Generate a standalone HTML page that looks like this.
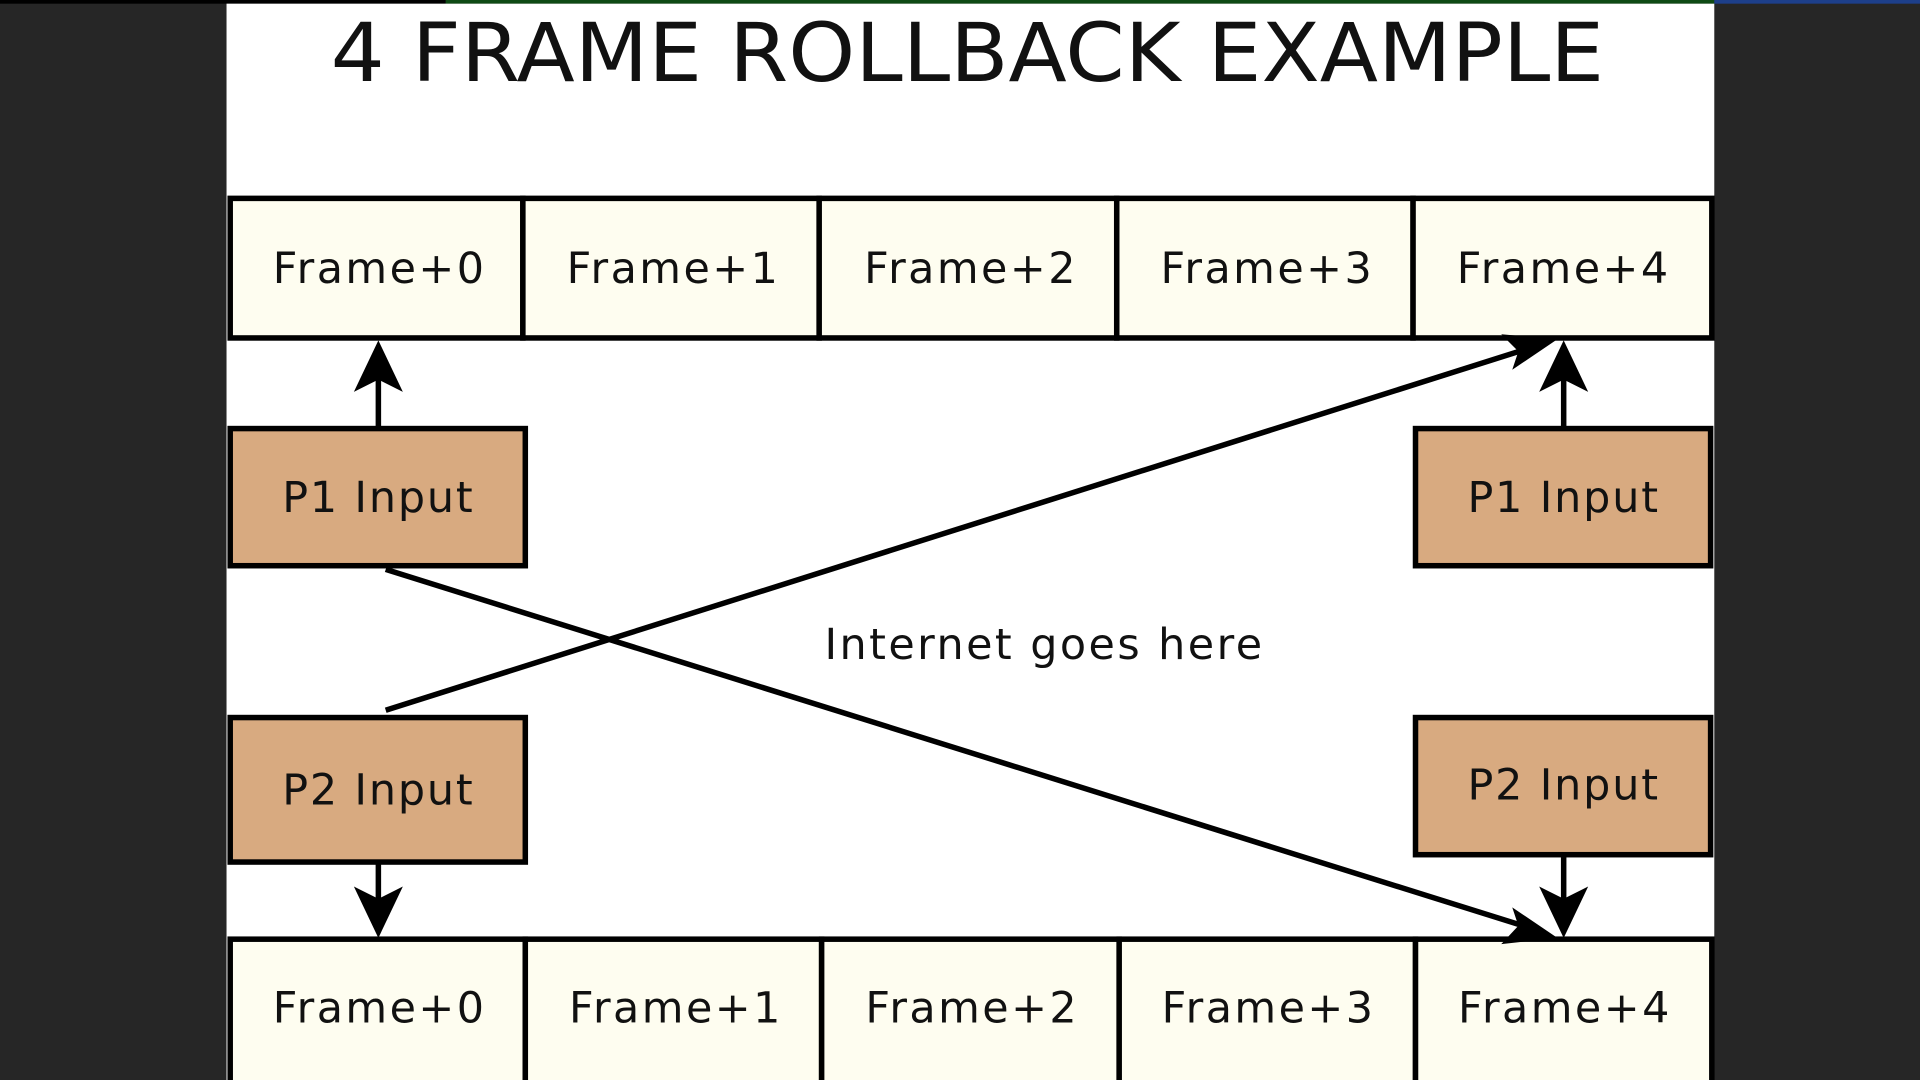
<!DOCTYPE html>
<html><head><meta charset="utf-8"><style>
html,body{margin:0;padding:0;background:#262626;width:1920px;height:1080px;overflow:hidden}
svg{display:block}
text{font-family:"DejaVu Sans","Liberation Sans",sans-serif;fill:#111}
</style></head><body>
<svg width="1920" height="1080" viewBox="0 0 1568 882" preserveAspectRatio="none" xmlns="http://www.w3.org/2000/svg">
<rect x="0" y="0" width="1568" height="882" fill="#262626"/>
<rect x="0" y="0" width="364" height="3" fill="#000"/>
<rect x="364" y="0" width="1036" height="3" fill="#0e4a14"/>
<rect x="1400" y="0" width="168" height="3" fill="#1d3f8a"/>
<rect x="185" y="3" width="1215" height="879" fill="#fff"/>
<text x="790" y="66" font-size="66" text-anchor="middle" textLength="1040" lengthAdjust="spacingAndGlyphs">4 FRAME ROLLBACK EXAMPLE</text>

<g stroke="#000" stroke-width="4.5" fill="#fefdf0">
<rect x="188" y="162" width="239" height="114"/>
<rect x="427" y="162" width="242" height="114"/>
<rect x="669" y="162" width="243" height="114"/>
<rect x="912" y="162" width="242" height="114"/>
<rect x="1154" y="162" width="244" height="114"/>
<rect x="188" y="767" width="241" height="118"/>
<rect x="429" y="767" width="242" height="118"/>
<rect x="671" y="767" width="243" height="118"/>
<rect x="914" y="767" width="242" height="118"/>
<rect x="1156" y="767" width="242" height="118"/>
</g>
<g font-size="35" text-anchor="middle" letter-spacing="2">
<text x="310" y="231">Frame+0</text>
<text x="550" y="231">Frame+1</text>
<text x="793" y="231">Frame+2</text>
<text x="1035" y="231">Frame+3</text>
<text x="1277" y="231">Frame+4</text>
<text x="310" y="835">Frame+0</text>
<text x="552" y="835">Frame+1</text>
<text x="794" y="835">Frame+2</text>
<text x="1036" y="835">Frame+3</text>
<text x="1278" y="835">Frame+4</text>
</g>
<g stroke="#000" stroke-width="4.5" fill="#d8aa80">
<rect x="188" y="350" width="241" height="112"/>
<rect x="1156" y="350" width="241" height="112"/>
<rect x="188" y="586" width="241" height="118"/>
<rect x="1156" y="586" width="241" height="112"/>
</g>
<g font-size="35" text-anchor="middle" letter-spacing="1.5">
<text x="309" y="418">P1 Input</text>
<text x="1277" y="418">P1 Input</text>
<text x="309" y="657">P2 Input</text>
<text x="1277" y="653">P2 Input</text>
<text x="853" y="538" letter-spacing="2">Internet goes here</text>
</g>
<g stroke="#000" stroke-width="4.5" fill="none">
<line x1="309" y1="348" x2="309" y2="300"/>
<line x1="1277" y1="348" x2="1277" y2="300"/>
<line x1="309" y1="706" x2="309" y2="742"/>
<line x1="1277" y1="700" x2="1277" y2="742"/>
<line x1="315" y1="580" x2="1250" y2="284"/>
<line x1="315" y1="465" x2="1250" y2="758"/>
</g>
<g fill="#000">
<polygon points="309,278 289,320 309,310 329,320"/>
<polygon points="1277,278 1257,320 1277,310 1297,320"/>
<polygon points="309,766 289,724 309,734 329,724"/>
<polygon points="1277,766 1257,724 1277,734 1297,724"/>
<polygon points="1272,277 1226,273 1240,287 1235,302"/>
<polygon points="1272,766 1235,741 1240,756 1226,771"/>
</g>
</svg>
</body></html>
